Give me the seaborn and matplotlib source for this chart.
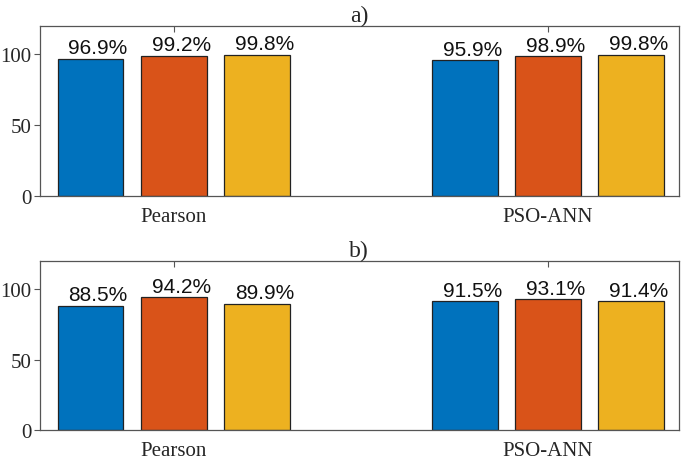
import pandas as pd
import matplotlib.pyplot as plt
import seaborn as sns

methods = ["Pearson", "PSO-ANN"]
series = ["s1", "s2", "s3"]
vals_a = [[96.9, 99.2, 99.8], [95.9, 98.9, 99.8]]
vals_b = [[88.5, 94.2, 89.9], [91.5, 93.1, 91.4]]
labels_a = [["96.9%", "99.2%", "99.8%"], ["95.9%", "98.9%", "99.8%"]]
labels_b = [["88.5%", "94.2%", "89.9%"], ["91.5%", "93.1%", "91.4%"]]
colors = ["#0072BD", "#D95319", "#EDB120"]

sns.set_style("white")
plt.rcParams["font.family"] = ["Liberation Serif", "DejaVu Serif"]

fig = plt.figure(figsize=(6.85, 4.6), dpi=100)
ax_a = fig.add_axes([0.058, 0.572, 0.933, 0.369])
ax_b = fig.add_axes([0.058, 0.063, 0.933, 0.367])


def make_df(vals):
    rows = []
    for i, m in enumerate(methods):
        for j, s in enumerate(series):
            rows.append({"method": m, "series": s, "value": vals[i][j]})
    return pd.DataFrame(rows)


for ax, vals, labels, title in [(ax_a, vals_a, labels_a, "a)"), (ax_b, vals_b, labels_b, "b)")]:
    df = make_df(vals)
    sns.barplot(data=df, x="method", y="value", hue="series", palette=colors,
                saturation=1, width=0.667, gap=0.207, edgecolor="#222222",
                linewidth=0.9, legend=False, ax=ax)
    # value labels above each bar
    for j, cont in enumerate(ax.containers):
        for i, bar in enumerate(cont):
            ax.text(bar.get_x() + bar.get_width() / 2 + 0.02, bar.get_height() + 1.0,
                    labels[i][j], ha="center", va="bottom", fontsize=15,
                    family=["Liberation Sans", "DejaVu Sans"], color="#111111")
    ax.set_xlim(-0.358, 1.35)
    ax.set_ylim(0, 120)
    ax.set_yticks([0, 50, 100])
    ax.set_xlabel("")
    ax.set_ylabel("")
    ax.set_title(title, fontsize=17, pad=4)
    ax.tick_params(axis="x", direction="in", top=True, bottom=True, length=4,
                   labelsize=15, pad=8, color="#555555")
    ax.tick_params(axis="y", direction="out", left=True, length=4,
                   labelsize=15, pad=2, color="#555555")
    for sp in ax.spines.values():
        sp.set_color("#555555")
        sp.set_linewidth(0.9)

fig.savefig("out.png", dpi=100)
